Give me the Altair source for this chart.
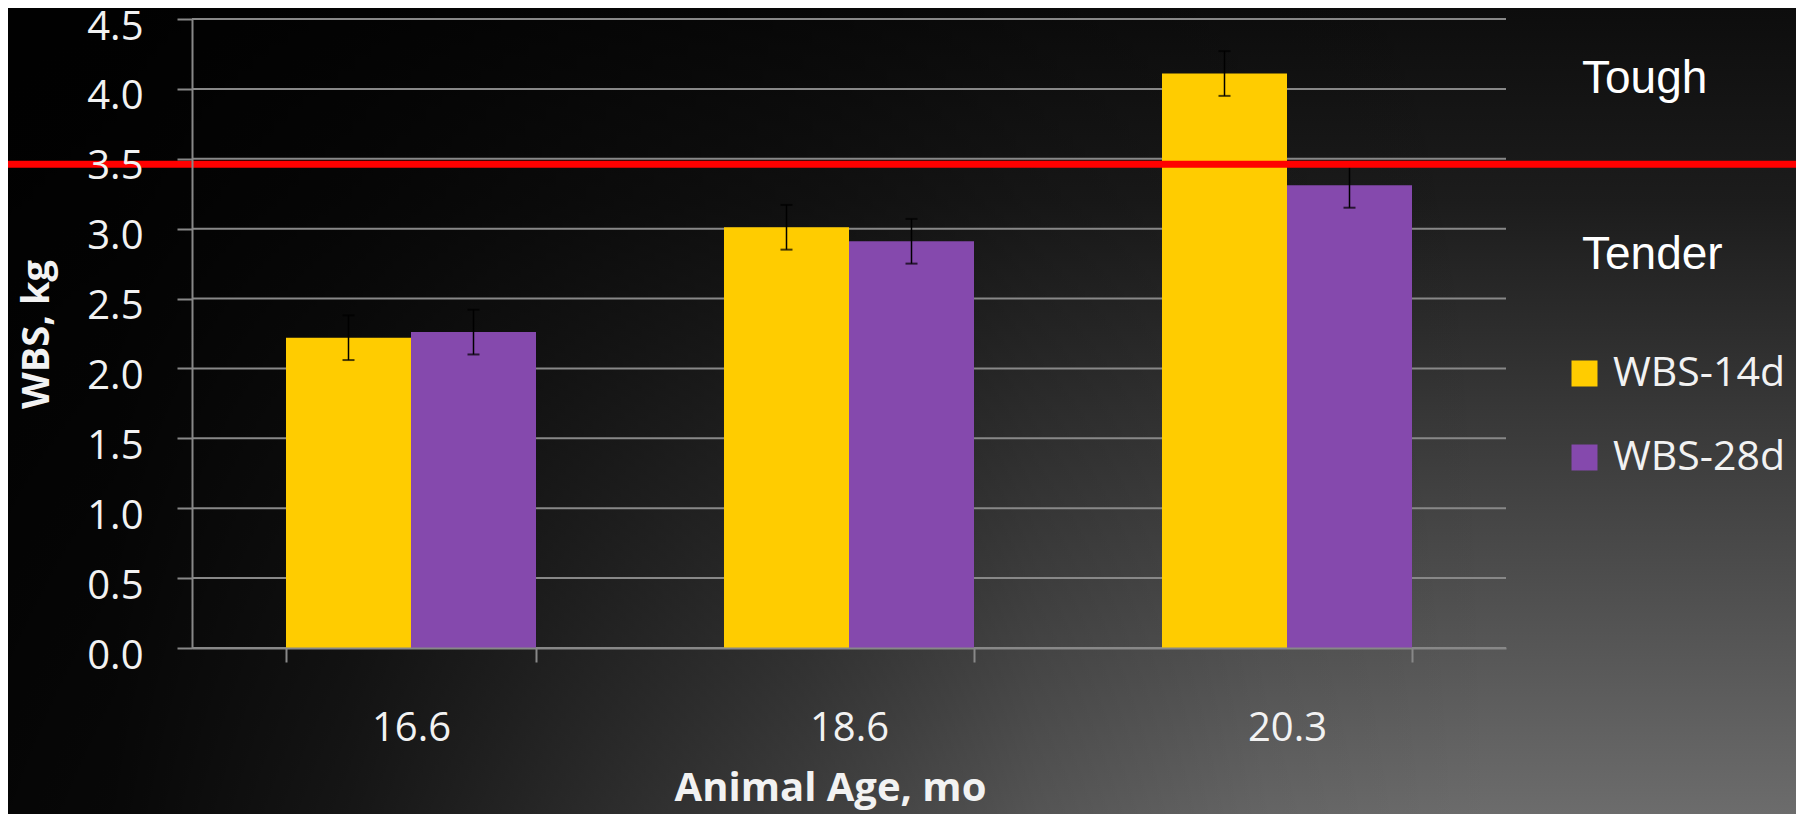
import altair as alt
import pandas as pd

# ---- data ----
ages = ["16.6", "18.6", "20.3"]
series = ["WBS-14d", "WBS-28d"]
wbs_14d = [2.22, 3.01, 4.11]
wbs_28d = [2.26, 2.91, 3.31]
se_14d = [0.16, 0.16, 0.16]
se_28d = [0.16, 0.16, 0.16]
bar_colors = ["#ffcc00", "#8549ad"]
y_ticks = [0.0, 0.5, 1.0, 1.5, 2.0, 2.5, 3.0, 3.5, 4.0, 4.5]
threshold = [3.46]
zone_labels = ["Tough", "Tender"]
zone_y = [3.97, 2.71]

rows = []
for s, vals, ses in [(series[0], wbs_14d, se_14d), (series[1], wbs_28d, se_28d)]:
    for a, v, e in zip(ages, vals, ses):
        rows.append({"age": a, "series": s, "wbs": v, "lo": v - e, "hi": v + e})
df = pd.DataFrame(rows)

W, H = 1314, 629
PL, PT, PR, PB = 184, 11, 290, 166
GRID = "#888888"
TXT = "#f2f2f2"

xaxis = alt.Axis(
    tickBand="extent", zindex=1, grid=False,
    domainColor=GRID, domainWidth=2, tickColor=GRID, tickWidth=2, tickSize=14,
    labelFont="Open Sans", labelFontSize=40, labelColor=TXT, labelAngle=0,
    labelPadding=78, labelBaseline="alphabetic",
    titleFont="Open Sans", titleFontWeight="bold", titleFontSize=40, titleColor=TXT,
    titleX=638, titleY=152, titleBaseline="alphabetic", titleAlign="center",
)
yaxis = alt.Axis(
    values=y_ticks, format=".1f", grid=False, zindex=1,
    domainColor=GRID, domainWidth=2, tickColor=GRID, tickWidth=2, tickSize=15,
    labelFont="Open Sans", labelFontSize=40, labelColor=TXT, labelPadding=34,
    labelBaseline="alphabetic", labelOffset=20,
    titleFont="Open Sans", titleFontWeight="bold", titleFontSize=38, titleColor=TXT,
    titleX=-155, titleY=315, titleAngle=-90, titleBaseline="middle", titleAlign="center",
)
xscale = alt.Scale(domain=ages, paddingInner=0.4292, paddingOuter=0.2146)
yscale = alt.Scale(domain=[0, 4.5], nice=False)
xoff = alt.XOffset("series:N", scale=alt.Scale(domain=series, paddingInner=0, paddingOuter=0))


def xenc():
    return alt.X("age:N", sort=ages, scale=xscale, axis=xaxis, title="Animal Age, mo")


def yenc(field):
    return alt.Y(field, scale=yscale, axis=yaxis, title="WBS, kg")


one = pd.DataFrame({"k": [0]})

base_grad = alt.LinearGradient(
    gradient="linear", x1=0, x2=0, y1=0, y2=1,
    stops=[
        alt.GradientStop(offset=0.0, color="#0d0d0d"),
        alt.GradientStop(offset=0.24, color="#1c1c1c"),
        alt.GradientStop(offset=0.486, color="#363636"),
        alt.GradientStop(offset=0.734, color="#505050"),
        alt.GradientStop(offset=1.0, color="#6c6c6c"),
    ],
)
shade_grad = alt.LinearGradient(
    gradient="linear", x1=0, x2=1, y1=0, y2=0,
    stops=[
        alt.GradientStop(offset=0.0, color="rgba(0,0,0,0.95)"),
        alt.GradientStop(offset=0.06, color="rgba(0,0,0,0.93)"),
        alt.GradientStop(offset=0.19, color="rgba(0,0,0,0.8)"),
        alt.GradientStop(offset=0.317, color="rgba(0,0,0,0.62)"),
        alt.GradientStop(offset=0.446, color="rgba(0,0,0,0.44)"),
        alt.GradientStop(offset=0.575, color="rgba(0,0,0,0.22)"),
        alt.GradientStop(offset=0.703, color="rgba(0,0,0,0.07)"),
        alt.GradientStop(offset=0.832, color="rgba(0,0,0,0.0)"),
        alt.GradientStop(offset=1.0, color="rgba(0,0,0,0.0)"),
    ],
)

bg_enc = dict(x=alt.value(-PL), x2=alt.value(W + PR), y=alt.value(-PT), y2=alt.value(H + PB))
bg_base = alt.Chart(one).mark_rect(fill=base_grad).encode(**bg_enc)
bg_shade = alt.Chart(one).mark_rect(fill=shade_grad).encode(**bg_enc)

grid = alt.Chart(pd.DataFrame({"v": y_ticks})).mark_rule(color=GRID, strokeWidth=2).encode(
    y=yenc("v:Q")
)

bars = alt.Chart(df).mark_bar().encode(
    x=xenc(),
    xOffset=xoff,
    y=yenc("wbs:Q"),
    color=alt.Color(
        "series:N",
        scale=alt.Scale(domain=series, range=bar_colors),
        legend=alt.Legend(
            orient="none", legendX=1372, legendY=334, title=None,
            symbolType="square", symbolSize=676, symbolStrokeWidth=0, symbolOpacity=1,
            labelFont="Open Sans", labelFontSize=41, labelColor=TXT, labelOffset=8,
            labelLimit=0, rowPadding=42, padding=0,
        ),
    ),
)

err_line = alt.Chart(df).mark_rule(color="#000000", strokeWidth=1.5).encode(
    x=xenc(), xOffset=xoff, y=yenc("lo:Q"), y2="hi:Q"
)
err_lo = alt.Chart(df).mark_tick(color="#000000", size=12, thickness=2, orient="horizontal").encode(
    x=xenc(), xOffset=xoff, y=yenc("lo:Q")
)
err_hi = alt.Chart(df).mark_tick(color="#000000", size=12, thickness=2, orient="horizontal").encode(
    x=xenc(), xOffset=xoff, y=yenc("hi:Q")
)

red = alt.Chart(pd.DataFrame({"thr": threshold})).mark_rule(color="#ff0000", strokeWidth=7).encode(
    y=yenc("thr:Q"), x=alt.value(-PL), x2=alt.value(W + PR)
)

zones = alt.Chart(pd.DataFrame({"label": zone_labels, "zy": zone_y})).mark_text(
    align="left", baseline="alphabetic", font="Liberation Sans", fontSize=46, color="#ffffff"
).encode(x=alt.value(1390), y=yenc("zy:Q"), text="label:N")

chart = (
    alt.layer(bg_base, bg_shade, grid, bars, err_line, err_lo, err_hi, red, zones)
    .properties(
        width=W, height=H,
        padding={"left": PL, "top": PT, "right": PR, "bottom": PB},
        autosize=alt.AutoSizeParams(type="none"),
    )
    .configure(background="#000000")
    .configure_view(stroke=None)
)

chart.save("out.html", embed_options={"renderer": "svg", "actions": False})
